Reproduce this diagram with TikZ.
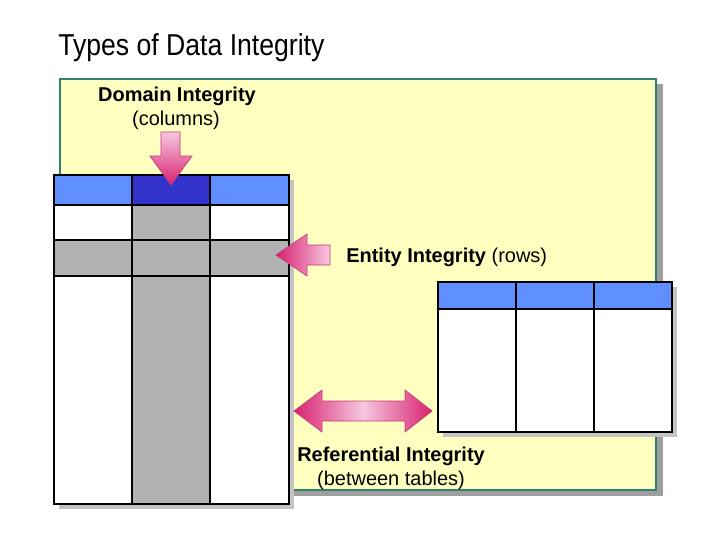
\documentclass[tikz,border=0pt]{standalone}
\usepackage{fontspec}
\setmainfont{Liberation Sans}
\newfontfamily\sempit[FakeStretch=0.88]{Liberation Sans}

\definecolor{kuning}{HTML}{FFFFC0}
\definecolor{tosca}{HTML}{2E8070}
\definecolor{birumuda}{HTML}{5F8FFF}
\definecolor{birutua}{HTML}{3333CC}
\definecolor{abu}{HTML}{B2B2B2}
\definecolor{bayangan}{HTML}{C4C4C4}
\definecolor{merahmuda}{HTML}{F6C8E2}
\definecolor{magenta}{HTML}{D8216E}
\definecolor{garispanah}{HTML}{C83A78}

\tikzset{
  sel/.style={draw=black, line width=0.8pt},
  bayang/.style={fill=bayangan, draw=none},
  panah/.style={draw=garispanah, line width=0.5pt},
  judul/.style={font=\bfseries\fontsize{14.2}{16}\selectfont, inner sep=0pt},
  ket/.style={font=\fontsize{14.2}{16}\selectfont, inner sep=0pt}
}

\begin{document}
\begin{tikzpicture}[x=0.025cm, y=-0.025cm]

      \useasboundingbox (0,0) rectangle (720,540);

      % Judul
      \node[anchor=base west, inner sep=0pt, font=\sempit\fontsize{21.5}{23}\selectfont] (judul) at (58,55) {Types of Data Integrity};

      % Kotak kuning
      \fill[gray!75] (65,84) rectangle (663,496);
      \draw[tosca, line width=1.6pt, fill=kuning] (60,79) rectangle (656,490);

      % Tabel kiri
      \fill[bayang] (59,180) rectangle (294,509);
      \fill[white] (54,175) rectangle (289,504);
      \fill[birumuda] (54,175) rectangle (289,205);
      \fill[birutua] (132,175) rectangle (210,205);
      \fill[abu] (132,205) rectangle (210,504);
      \fill[abu] (54,240) rectangle (289,276);
      \draw[sel] (54,175) rectangle (289,504);
      \foreach \x in {132,210}
        \draw[sel] (\x,175) -- (\x,504);
      \foreach \y in {205,240,276}
        \draw[sel] (54,\y) -- (289,\y);

      % Tabel kanan
      \fill[bayang] (443,287) rectangle (677,437);
      \fill[white] (438,282) rectangle (672,432);
      \fill[birumuda] (438,282) rectangle (672,309);
      \draw[sel] (438,282) rectangle (672,432);
      \foreach \x in {516,594}
        \draw[sel] (\x,282) -- (\x,432);
      \draw[sel] (438,309) -- (672,309);

      % Panah domain (ke bawah)
      \draw[panah, top color=merahmuda, bottom color=magenta]
        (161,132) -- (180,132) -- (180,156) -- (192,156) -- (171,185)
        -- (150,156) -- (161,156) -- cycle;

      % Panah entitas (ke kiri)
      \draw[panah, left color=magenta, right color=merahmuda]
        (276,255) -- (307,234) -- (307,245) -- (330,245) -- (330,265)
        -- (307,265) -- (307,276) -- cycle;

      % Panah referensial (dua arah)
      \draw[panah, left color=magenta, right color=magenta, middle color=merahmuda]
        (294,411) -- (322,390) -- (322,401) -- (405,401) -- (405,390)
        -- (432,411) -- (405,432) -- (405,421) -- (322,421) -- (322,432) -- cycle;

      % Label
      \node[judul, anchor=base] (domain) at (177,101) {Domain Integrity};
      \node[ket, anchor=base] (kolom) at (176,125) {(columns)};
      \node[ket, anchor=base west] (entitas) at (346,262)
        {\textbf{Entity Integrity} (rows)};
      \node[judul, anchor=base west] (referensial) at (297,461) {Referential Integrity};
      \node[ket, anchor=base] (antartabel) at (391,485) {(between tables)};

    \end{tikzpicture}
\end{document}
